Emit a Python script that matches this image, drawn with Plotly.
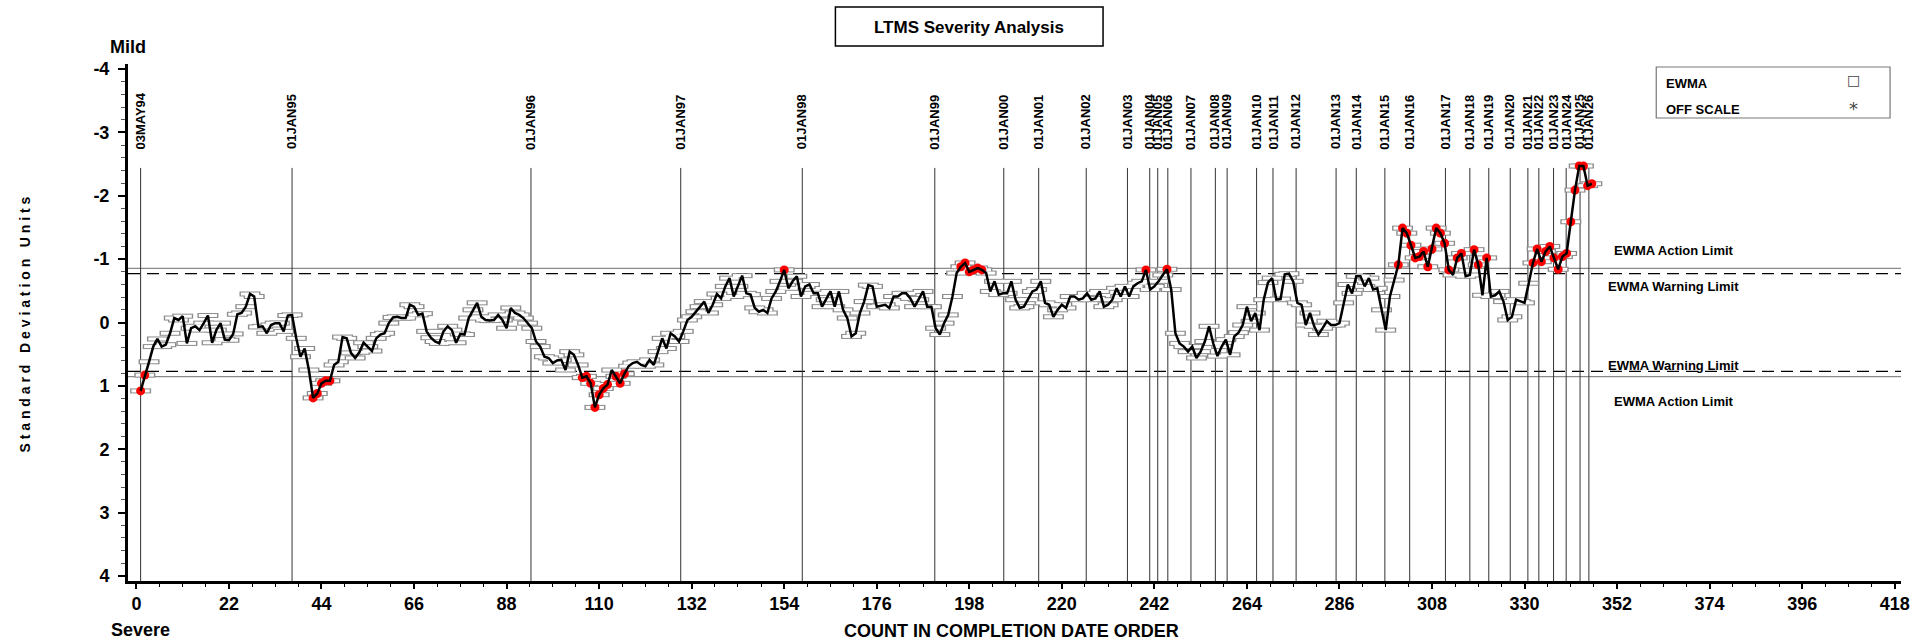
import plotly.graph_objects as go

# ---------------- data ----------------
count = list(range(1, 347))
ewma = [
    1.08, 0.83, 0.62, 0.38, 0.26, 0.38, 0.35, 0.17, -0.07, -0.04,
    -0.10, 0.33, 0.09, 0.06, 0.12, 0.01, -0.11, 0.32, 0.12, 0.01,
    0.27, 0.28, 0.18, -0.13, -0.15, -0.25, -0.45, -0.41, 0.07, 0.06,
    0.17, 0.04, 0.01, 0.01, 0.14, -0.11, -0.12, 0.25, 0.54, 0.41,
    0.75, 1.19, 1.12, 0.96, 0.92, 0.92, 0.67, 0.62, 0.23, 0.25,
    0.48, 0.56, 0.47, 0.32, 0.38, 0.45, 0.25, 0.19, 0.17, 0.01,
    -0.08, -0.09, -0.07, -0.07, -0.28, -0.25, -0.12, -0.14, 0.14, 0.24,
    0.30, 0.33, 0.14, 0.06, 0.12, 0.32, 0.18, 0.19, -0.07, -0.20,
    -0.31, -0.09, -0.04, -0.03, -0.04, -0.12, -0.04, 0.09, -0.23, -0.15,
    -0.12, -0.07, 0.01, 0.09, 0.30, 0.38, 0.54, 0.56, 0.64, 0.60,
    0.59, 0.75, 0.46, 0.51, 0.67, 0.87, 0.85, 0.96, 1.34, 1.14,
    1.04, 0.98, 0.75, 0.85, 0.96, 0.81, 0.69, 0.64, 0.62, 0.67,
    0.69, 0.59, 0.67, 0.46, 0.25, 0.41, 0.17, 0.22, 0.30, 0.14,
    -0.04, -0.09, -0.17, -0.25, -0.33, -0.15, -0.28, -0.45, -0.38, -0.57,
    -0.70, -0.41, -0.57, -0.74, -0.46, -0.44, -0.23, -0.17, -0.20, -0.15,
    -0.38, -0.49, -0.65, -0.83, -0.54, -0.65, -0.73, -0.41, -0.57, -0.60,
    -0.46, -0.46, -0.25, -0.36, -0.49, -0.25, -0.49, -0.20, -0.07, 0.22,
    0.17, -0.15, -0.33, -0.59, -0.57, -0.25, -0.26, -0.28, -0.23, -0.41,
    -0.41, -0.46, -0.46, -0.38, -0.25, -0.36, -0.49, -0.25, -0.25, 0.09,
    0.19, 0.01, -0.12, -0.41, -0.78, -0.88, -0.94, -0.80, -0.83, -0.86,
    -0.83, -0.78, -0.49, -0.65, -0.44, -0.46, -0.46, -0.65, -0.36, -0.23,
    -0.25, -0.36, -0.49, -0.52, -0.65, -0.31, -0.28, -0.09, -0.20, -0.28,
    -0.23, -0.41, -0.41, -0.36, -0.38, -0.46, -0.36, -0.38, -0.49, -0.25,
    -0.28, -0.36, -0.54, -0.41, -0.57, -0.41, -0.57, -0.62, -0.65, -0.83,
    -0.52, -0.57, -0.65, -0.75, -0.84, -0.52, 0.17, 0.33, 0.38, 0.46,
    0.38, 0.56, 0.46, 0.30, 0.06, 0.33, 0.53, 0.38, 0.27, 0.51,
    0.22, 0.16, 0.04, -0.25, -0.02, -0.15, 0.12, -0.36, -0.63, -0.70,
    -0.36, -0.37, -0.76, -0.77, -0.65, -0.31, -0.28, 0.04, -0.15, 0.06,
    0.19, 0.09, -0.02, 0.04, 0.04, 0.01, -0.31, -0.60, -0.46, -0.73,
    -0.73, -0.57, -0.70, -0.52, -0.54, -0.20, 0.12, -0.41, -0.67, -0.91,
    -1.49, -1.41, -1.22, -1.02, -1.04, -1.12, -0.88, -1.16, -1.49, -1.41,
    -1.25, -0.83, -0.75, -1.02, -1.09, -0.73, -0.75, -1.15, -0.91, -0.43,
    -1.02, -0.41, -0.43, -0.49, -0.33, -0.04, -0.09, -0.36, -0.33, -0.31,
    -0.62, -0.94, -1.16, -0.96, -1.12, -1.20, -1.02, -0.84, -1.04, -1.09,
    -1.59, -2.09, -2.47, -2.47, -2.16, -2.19,
]

year_counts = [1, 37, 93.8, 129.4, 158.3, 189.8, 206.2, 214.5, 225.8, 235.6,
               240.9, 242.8, 245.2, 250.7, 256.5, 259.3, 266.3, 270.2, 275.7,
               285.2, 290.0, 296.8, 302.7, 311.2, 317.0, 321.5, 326.6, 330.8,
               333.4, 336.9, 339.9, 343.2, 345.3]
year_labels = ["03MAY94", "01JAN95", "01JAN96", "01JAN97", "01JAN98", "01JAN99",
               "01JAN00", "01JAN01", "01JAN02", "01JAN03", "01JAN04", "01JAN05",
               "01JAN06", "01JAN07", "01JAN08", "01JAN09", "01JAN10", "01JAN11",
               "01JAN12", "01JAN13", "01JAN14", "01JAN15", "01JAN16", "01JAN17",
               "01JAN18", "01JAN19", "01JAN20", "01JAN21", "01JAN22", "01JAN23",
               "01JAN24", "01JAN25", "01JAN26"]

action_limit = 0.855
warning_limit = 0.77
flag_level = 0.80

x_tick_vals = list(range(0, 419, 22))
y_tick_vals = [-4, -3, -2, -1, 0, 1, 2, 3, 4]
y_tick_text = ["-4", "-3", "-2", "-1", "0", "1", "2", "3", "4"]

# ---------------- layout helpers ----------------
W, H = 1921, 641
ML, MR, MT, MB = 128, 11, 64, 60
PW = W - ML - MR
PH = H - MT - MB
FONT = "Liberation Sans, Arial, sans-serif"


def px(x):
    return (x - ML) / PW


def py(y):
    return (H - MB - y) / PH


red_x = [c for c, v in zip(count, ewma) if abs(v) >= flag_level]
red_y = [v for v in ewma if abs(v) >= flag_level]

fig = go.Figure()
# open rectangle markers: gray bar with white interior
fig.add_trace(go.Scatter(x=count, y=ewma, mode="markers",
                         marker=dict(symbol="line-ew", size=15,
                                     line=dict(color="#8c8c8c", width=5)),
                         hoverinfo="skip", showlegend=False))
fig.add_trace(go.Scatter(x=count, y=ewma, mode="markers",
                         marker=dict(symbol="line-ew", size=13,
                                     line=dict(color="white", width=3)),
                         hoverinfo="skip", showlegend=False))
fig.add_trace(go.Scatter(x=red_x, y=red_y, mode="markers",
                         marker=dict(color="#ff0000", size=9, line=dict(width=0)),
                         hoverinfo="skip", showlegend=False))
fig.add_trace(go.Scatter(x=count, y=ewma, mode="lines",
                         line=dict(color="black", width=2.5),
                         hoverinfo="skip", showlegend=False))

shapes = []
line_top = -2.44
for xc in year_counts:
    shapes.append(dict(type="line", xref="x", yref="y", x0=xc, x1=xc, y0=line_top, y1=4.08,
                       line=dict(color="#333333", width=1), layer="below"))
for s in (-1, 1):
    shapes.append(dict(type="line", xref="paper", yref="y", x0=0, x1=1,
                       y0=s * action_limit, y1=s * action_limit,
                       line=dict(color="#8a8a8a", width=1.2), layer="below"))
    shapes.append(dict(type="line", xref="paper", yref="y", x0=0, x1=1,
                       y0=s * warning_limit, y1=s * warning_limit,
                       line=dict(color="black", width=1.2, dash="12px,7px"), layer="below"))
# title box
shapes.append(dict(type="rect", xref="paper", yref="paper", x0=px(839), x1=px(1108),
                   y0=py(46), y1=py(7), line=dict(color="black", width=1.5)))
# legend box
shapes.append(dict(type="rect", xref="paper", yref="paper", x0=px(1664), x1=px(1899),
                   y0=py(118), y1=py(67), line=dict(color="#777777", width=1.2)))

ann = []


def text(x, y, t, size=14, xanchor="center", yanchor="middle", angle=0, color="black",
         family=FONT):
    ann.append(dict(x=px(x), y=py(y), xref="paper", yref="paper", text=t, showarrow=False,
                    xanchor=xanchor, yanchor=yanchor, textangle=angle,
                    font=dict(family=family, size=size, color=color, weight="bold")))


text(973, 27, "LTMS Severity Analysis", size=17)
text(128, 47, "Mild", size=18)
text(141, 630, "Severe", size=18)
text(1016, 631, "COUNT IN COMPLETION DATE ORDER", size=18)
text(24, 325, " ".join("Standard Deviation Units"), size=14, angle=-90)
text(1672, 83, "EWMA", size=13, xanchor="left")
text(1672, 109, "OFF SCALE", size=13, xanchor="left")
ann.append(dict(x=px(1862), y=py(80), xref="paper", yref="paper", text="\u25a1", showarrow=False,
                xanchor="center", yanchor="middle",
                font=dict(family="DejaVu Sans", size=14, color="#444444")))
ann.append(dict(x=px(1862), y=py(108), xref="paper", yref="paper", text="*", showarrow=False,
                xanchor="center", yanchor="middle",
                font=dict(family="DejaVu Sans", size=18, color="#444444")))

for xc, lab in zip(year_counts, year_labels):
    ann.append(dict(x=xc, y=-2.70, xref="x", yref="y", text=lab, showarrow=False,
                    textangle=-90, xanchor="center", yanchor="bottom",
                    font=dict(family=FONT, size=13, color="black", weight="bold")))

# limit labels
lim_x = 365.5
for yv, ys, lab in [(-action_limit, 18, "EWMA Action Limit"),
                    (-warning_limit, -13, "EWMA Warning Limit"),
                    (warning_limit, 6, "EWMA Warning Limit"),
                    (action_limit, -25, "EWMA Action Limit")]:
    ann.append(dict(x=lim_x, y=yv, xref="x", yref="y", text=lab, showarrow=False,
                    yshift=ys, xanchor="center",
                    font=dict(family=FONT, size=13, color="black", weight="bold")))

fig.update_layout(
    width=W, height=H,
    margin=dict(l=ML, r=MR, t=MT, b=MB, pad=0),
    paper_bgcolor="white", plot_bgcolor="white",
    shapes=shapes, annotations=ann, showlegend=False,
    font=dict(family=FONT, color="black"),
    xaxis=dict(range=[-2, 419.5], tickvals=x_tick_vals, ticks="outside", ticklen=5,
               tickwidth=1.5, tickcolor="black", showline=True, linewidth=2.5,
               linecolor="black", showgrid=False, zeroline=False,
               ticklabelstandoff=0,
               tickfont=dict(family=FONT, size=18, weight="bold"),
               minor=dict(dtick=5.5, tick0=0, ticks="outside", ticklen=3, tickwidth=1,
                          tickcolor="black")),
    yaxis=dict(range=[4.08, -4.08], tickvals=y_tick_vals, ticktext=y_tick_text,
               ticks="outside", ticklen=7, tickwidth=2, tickcolor="black",
               showline=True, linewidth=3, linecolor="black", showgrid=False,
               zeroline=False, ticklabelstandoff=5,
               tickfont=dict(family=FONT, size=18, weight="bold"),
               minor=dict(dtick=0.2, tick0=0, ticks="outside", ticklen=4, tickwidth=1,
                          tickcolor="#555555")),
)

fig.write_html("out.html", config={"displayModeBar": False},
               post_script="document.body.style.margin='0px';"
                           "document.body.style.overflow='hidden';")
